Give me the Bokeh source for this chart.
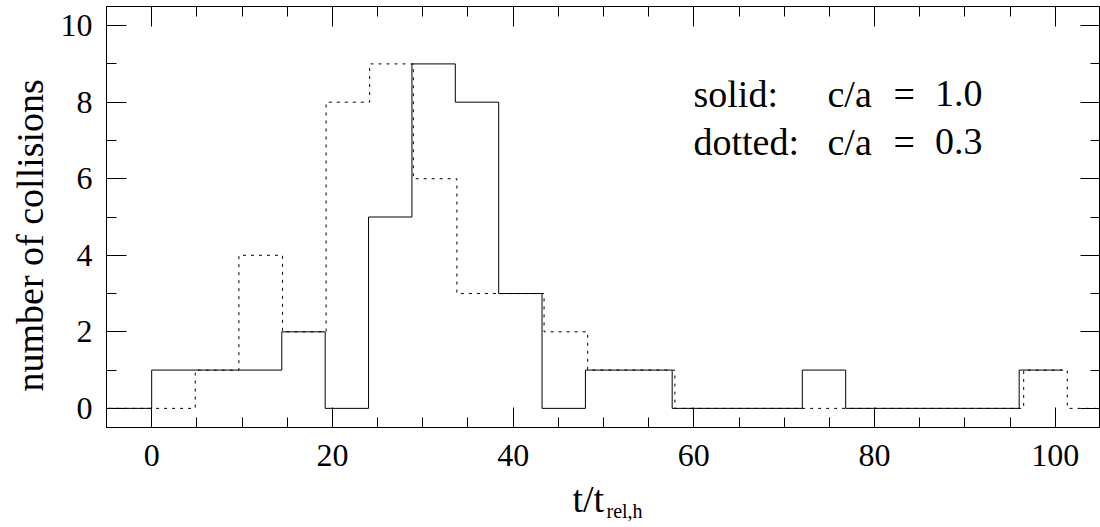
import numpy as np
from bokeh.plotting import figure
from bokeh.models import FixedTicker, LinearAxis, Label, Range1d, Title
from bokeh.embed import file_html
from bokeh.resources import INLINE

# ---- data ----
# solid histogram: c/a = 1.0 (bin width 4.8, first bin starts at -4.8)
solid_start = -4.8
solid_width = 4.8
solid_counts = [0, 1, 1, 1, 2, 0, 5, 9, 8, 3, 0, 1, 1, 0, 0, 0, 1, 0, 0, 0, 0, 1]

# dotted histogram: c/a = 0.3 (bin width 4.825, first bin starts at -4.825)
dotted_start = -4.825
dotted_width = 4.825
dotted_counts = [0, 0, 1, 4, 2, 8, 9, 6, 3, 3, 2, 1, 1, 0, 0, 0, 0, 0, 0, 0, 0, 1, 0]

x_major = [0, 20, 40, 60, 80, 100]
x_minor = list(range(-5, 106, 5))
y_major = [0, 2, 4, 6, 8, 10]
y_minor = list(range(0, 11, 1))

FONT = "Liberation Serif"

def step_xy(start, width, counts):
    edges = start + width * np.arange(len(counts) + 1)
    ys = list(counts) + [counts[-1]]
    return edges, ys

p = figure(width=1100, height=527,
           x_range=Range1d(-5, 105), y_range=Range1d(-0.5, 10.5),
           output_backend="svg", toolbar_location=None,
           min_border_left=106, min_border_right=0,
           min_border_top=6, min_border_bottom=99)
p.grid.visible = False
p.outline_line_color = "black"
p.outline_line_width = 1
p.background_fill_color = "white"
p.border_fill_color = "white"

xs, ys = step_xy(solid_start, solid_width, solid_counts)
p.step(xs, ys, mode="after", line_color="black", line_width=1)
xd, yd = step_xy(dotted_start, dotted_width, dotted_counts)
p.step(xd, yd, mode="after", line_color="black", line_width=1, line_dash="3 5")

def style_axis(ax, show_labels):
    ax.axis_line_color = "black"
    ax.major_tick_in = 20
    ax.major_tick_out = 0
    ax.minor_tick_in = 10
    ax.minor_tick_out = 0
    ax.major_tick_line_color = "black"
    ax.minor_tick_line_color = "black"
    if show_labels:
        ax.major_label_text_font = FONT
        ax.major_label_text_font_size = "32px"
        ax.major_label_text_color = "black"
    else:
        ax.major_label_text_color = None
        ax.major_label_text_alpha = 0
        ax.major_label_text_font_size = "1px"
        ax.major_label_standoff = 0
        ax.axis_label_standoff = 0

p.xaxis[0].ticker = FixedTicker(ticks=x_major, minor_ticks=x_minor)
p.yaxis[0].ticker = FixedTicker(ticks=y_major, minor_ticks=y_minor)
style_axis(p.xaxis[0], True)
style_axis(p.yaxis[0], True)
p.xaxis[0].major_label_standoff = 17
p.yaxis[0].major_label_standoff = 14

top = LinearAxis(ticker=FixedTicker(ticks=x_major, minor_ticks=x_minor))
right = LinearAxis(ticker=FixedTicker(ticks=y_major, minor_ticks=y_minor))
style_axis(top, False)
style_axis(right, False)
p.add_layout(top, "above")
p.add_layout(right, "right")

# y axis label as a side title (allows shifting along the axis)
p.add_layout(Title(text="number of collisions", align="left", offset=36, standoff=13,
                   text_font=FONT, text_font_size="38px", text_font_style="normal",
                   text_color="black"), "left")

# x axis label with subscript, as two titles below the axis
p.add_layout(Title(text="t/t", align="left", offset=466, standoff=15,
                   text_font=FONT, text_font_size="38px", text_font_style="normal",
                   text_color="black"), "below")
p.add_layout(Title(text="rel,h", align="left", offset=500, standoff=-56,
                   vertical_align="top",
                   text_font=FONT, text_font_size="20px", text_font_style="normal",
                   text_color="black"), "below")

def lab(text, x, y, size="38px", align="left"):
    p.add_layout(Label(text=text, x=x, y=y, x_units="screen", y_units="screen",
                       text_font=FONT, text_font_size=size, text_color="black",
                       text_align=align, text_baseline="alphabetic"))

# annotation text (screen offsets from the frame's lower-left corner)
lab("solid:", 587, 334)
lab("c/a", 721, 334)
lab("=", 787, 334)
lab("1.0", 876, 334, align="right")
lab("dotted:", 587, 286)
lab("c/a", 721, 286)
lab("=", 787, 286)
lab("0.3", 876, 286, align="right")

open("out.html", "w").write(file_html(p, INLINE))
